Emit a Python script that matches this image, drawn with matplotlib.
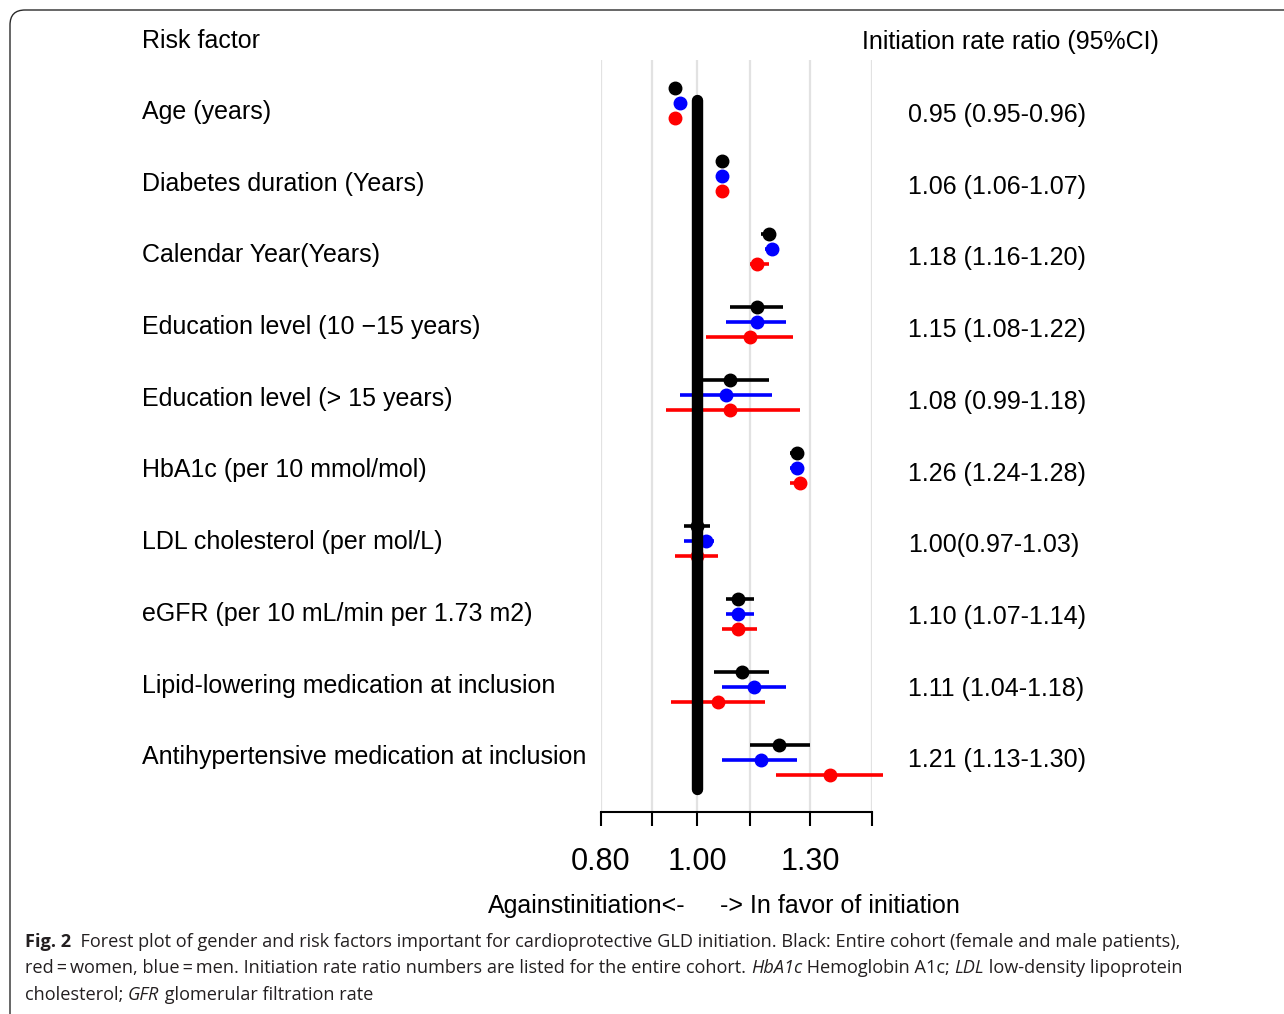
import matplotlib
matplotlib.use("Agg")
import matplotlib.pyplot as plt
import matplotlib.transforms as mtransforms
from matplotlib import font_manager
from matplotlib.patches import FancyBboxPatch
from matplotlib.ticker import NullLocator
import numpy as np

# ---- data (rate ratios) ----
factors = [
    "Age (years)",
    "Diabetes duration (Years)",
    "Calendar Year(Years)",
    "Education level (10 \u221215 years)",
    "Education level (> 15 years)",
    "HbA1c (per 10 mmol/mol)",
    "LDL cholesterol (per mol/L)",
    "eGFR (per 10 mL/min per 1.73 m2)",
    "Lipid-lowering medication at inclusion",
    "Antihypertensive medication at inclusion",
]
ci_text = [
    "0.95 (0.95-0.96)", "1.06 (1.06-1.07)", "1.18 (1.16-1.20)", "1.15 (1.08-1.22)",
    "1.08 (0.99-1.18)", "1.26 (1.24-1.28)", "1.00(0.97-1.03)", "1.10 (1.07-1.14)",
    "1.11 (1.04-1.18)", "1.21 (1.13-1.30)",
]

# entire cohort
all_est = [0.95, 1.06, 1.18, 1.15, 1.08, 1.26, 1.00, 1.10, 1.11, 1.21]
all_lo = [0.945, 1.055, 1.16, 1.08, 0.99, 1.24, 0.97, 1.07, 1.04, 1.13]
all_hi = [0.955, 1.065, 1.20, 1.22, 1.18, 1.28, 1.03, 1.14, 1.18, 1.30]
# men
men_est = [0.96, 1.06, 1.19, 1.15, 1.07, 1.26, 1.02, 1.10, 1.14, 1.16]
men_lo = [0.955, 1.055, 1.17, 1.07, 0.96, 1.24, 0.97, 1.07, 1.06, 1.06]
men_hi = [0.965, 1.065, 1.21, 1.23, 1.19, 1.28, 1.04, 1.14, 1.23, 1.26]
# women
women_est = [0.95, 1.06, 1.15, 1.13, 1.08, 1.27, 1.00, 1.10, 1.05, 1.36]
women_lo = [0.945, 1.055, 1.13, 1.02, 0.93, 1.24, 0.95, 1.06, 0.94, 1.20]
women_hi = [0.955, 1.065, 1.18, 1.25, 1.27, 1.29, 1.05, 1.15, 1.17, 1.54]

xticks = [0.8, 0.9, 1.0, 1.13, 1.3, 1.5]
xtick_labels = ["0.80", "", "1.00", "", "1.30", ""]

# ---- fonts ----
names = {f.name for f in font_manager.fontManager.ttflist}
main_font = "Liberation Sans" if "Liberation Sans" in names else "DejaVu Sans"
cap_font = "Liberation Sans Narrow" if "Liberation Sans Narrow" in names else "Open Sans"
plt.rcParams["font.family"] = [main_font, "DejaVu Sans"]

W, H = 1284, 1014
fig = plt.figure(figsize=(W / 100, H / 100), dpi=100)


def fx(px):
    return px / W


def fy(py):
    return 1 - py / H


# frame around the figure panel (pixel coords, runs off right/bottom edge)
frame = FancyBboxPatch((10, -40), 1320, H - 10 + 40,
                       boxstyle="round,pad=0,rounding_size=15",
                       transform=mtransforms.IdentityTransform(),
                       facecolor="none", edgecolor="#2a2a2a", lw=1.0)
fig.patches.append(frame)

ax = fig.add_axes([fx(601), fy(812), fx(872) - fx(601), (812 - 60) / H])
ax.set_xscale("log")
ax.set_xlim(0.8, 1.5)
ax.set_ylim(9.712, -0.589)

rows = np.arange(len(factors))
series = [
    (all_est, all_lo, all_hi, "black", -0.2),
    (men_est, men_lo, men_hi, "#0000ff", 0.0),
    (women_est, women_lo, women_hi, "#ff0000", 0.2),
]
for est, lo, hi, col, off in series:
    ax.hlines(rows + off, lo, hi, color=col, lw=2.6, zorder=3, clip_on=False)
    ax.plot(est, rows + off, "o", ms=9, color=col, zorder=4, clip_on=False)

# line of no effect
ax.plot([1, 1], [rows[0] - 0.035, rows[-1] + 0.40], color="black", lw=8.2,
        solid_capstyle="round", zorder=6, clip_on=False)

ax.set_xticks(xticks)
ax.set_xticklabels(xtick_labels, fontsize=22)
ax.xaxis.set_minor_locator(NullLocator())
ax.set_yticks([])
ax.grid(axis="x", color="#e2e2e2", lw=1.6, zorder=0)
for s in ["left", "right", "top"]:
    ax.spines[s].set_visible(False)
ax.spines["bottom"].set_linewidth(1.5)
ax.tick_params(axis="x", direction="out", length=10, width=1.5, pad=15)

# row labels and ratio column (text rows are spaced a bit tighter than the marks)
for i, (lab, ci) in enumerate(zip(factors, ci_text)):
    fig.text(fx(142), fy(112 + 71.7 * i), lab, va="center", fontsize=18)
    fig.text(fx(908), fy(115 + 71.7 * i), ci, va="center", fontsize=18)

fig.text(fx(142), fy(41), "Risk factor", va="center", fontsize=18)
fig.text(fx(862), fy(42), "Initiation rate ratio (95%CI)", va="center", fontsize=18)
fig.text(fx(686), fy(906), "Againstinitiation<-", ha="right", va="center", fontsize=18)
fig.text(fx(720), fy(906), "-> In favor of initiation", ha="left", va="center", fontsize=18)

# caption with mixed styles
caption = [
    [("Fig. 2", "normal", "bold"),
     ("  Forest plot of gender and risk factors important for cardioprotective GLD initiation. "
      "Black: Entire cohort (female and male patients),", "normal", "normal")],
    [("red\u2009=\u2009women, blue\u2009=\u2009men. Initiation rate ratio numbers are listed for the entire cohort. ",
      "normal", "normal"),
     ("HbA1c", "italic", "normal"), (" Hemoglobin A1c; ", "normal", "normal"),
     ("LDL", "italic", "normal"), (" low-density lipoprotein", "normal", "normal")],
    [("cholesterol; ", "normal", "normal"), ("GFR", "italic", "normal"),
     (" glomerular filtration rate", "normal", "normal")],
]
cap_y = [942, 968, 995]
renderer = fig.canvas.get_renderer()
for line, py in zip(caption, cap_y):
    x = 25
    for txt, style, weight in line:
        t = fig.text(fx(x), fy(py), txt, va="center", fontsize=13.1,
                     family=[cap_font, "DejaVu Sans"], style=style, weight=weight,
                     color="#231f20")
        x += t.get_window_extent(renderer).width

fig.savefig("out.png", dpi=100)
